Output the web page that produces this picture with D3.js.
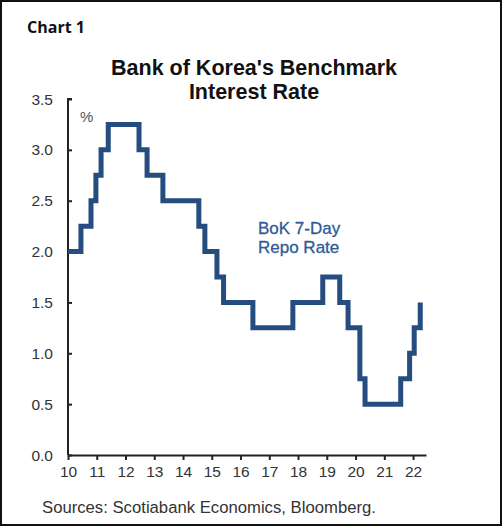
<!DOCTYPE html>
<html>
<head>
<meta charset="utf-8">
<script src="https://cdn.jsdelivr.net/npm/d3@7"></script>
<style>
  body { margin: 0; background: #fff; }
  svg { display: block; }
</style>
</head>
<body>
<div id="chart"></div>
<script>
// decimal year of each rate change, and the rate set then
const changeYears = [10.0, 10.45, 10.8, 10.97, 11.15, 11.4, 12.47, 12.75, 13.3, 14.55, 14.76, 15.18, 15.41, 16.43, 17.82, 18.86, 19.45, 19.74, 20.15, 20.33, 21.57, 21.88, 22.04, 22.25];
const repoRates = [2.0, 2.25, 2.5, 2.75, 3.0, 3.25, 3.0, 2.75, 2.5, 2.25, 2.0, 1.75, 1.5, 1.25, 1.5, 1.75, 1.5, 1.25, 0.75, 0.5, 0.75, 1.0, 1.25, 1.5];
const yTicks = [0, 0.5, 1.0, 1.5, 2.0, 2.5, 3.0, 3.5];
const xTicks = [10, 11, 12, 13, 14, 15, 16, 17, 18, 19, 20, 21, 22];

const width = 504, height = 528;
const margin = {left: 68, top: 99, right: 78, bottom: 73};

let svg = d3.select("#chart")
  .append("svg")
  .attr("width", width)
  .attr("height", height);

// outer frame
svg.append("rect")
  .attr("x", 1).attr("y", 1)
  .attr("width", 500).attr("height", 524)
  .attr("fill", "none")
  .attr("stroke", "#111")
  .attr("stroke-width", 2);

let x = d3.scaleLinear()
  .domain([10, 22.45])
  .range([margin.left, width - margin.right]);

let y = d3.scaleLinear()
  .domain([0, 3.5])
  .range([height - margin.bottom, margin.top]);

let font = "Arial, 'Liberation Sans', Helvetica, sans-serif";

// y axis
let yAxis = svg.append("g")
  .attr("transform", `translate(${margin.left},0)`)
  .call(d3.axisRight(y).tickValues(yTicks).tickSize(4).tickFormat(""));
yAxis.select(".domain").attr("d", `M4,${y(3.5)}H0V${y(0)}`);

svg.append("g").selectAll("text")
  .data(yTicks)
  .enter().append("text")
    .attr("x", 53)
    .attr("y", d => y(d) + 5.5)
    .attr("text-anchor", "end")
    .attr("font-family", font)
    .attr("font-size", "15.5px")
    .attr("fill", "#333")
    .text(d => d.toFixed(1));

// x axis
let xAxis = svg.append("g")
  .attr("transform", `translate(0,${y(0)})`)
  .call(d3.axisBottom(x).tickValues(xTicks).tickSize(5).tickSizeOuter(0).tickPadding(6).tickFormat(d3.format("d")));
xAxis.selectAll("text")
  .attr("font-family", font)
  .attr("font-size", "15.5px")
  .attr("fill", "#333");

svg.selectAll(".domain, .tick line")
  .attr("stroke", "#222")
  .attr("stroke-width", 2);

svg.append("text")
  .attr("x", 80).attr("y", 122)
  .attr("font-family", font)
  .attr("font-size", "15px")
  .attr("fill", "#555")
  .text("%");

// step line
let points = changeYears.map((d, i) => [d, repoRates[i]]);
let line = d3.line()
  .x(d => x(d[0]))
  .y(d => y(d[1]))
  .curve(d3.curveStepAfter);

svg.append("path")
  .datum(points)
  .attr("d", line)
  .attr("fill", "none")
  .attr("stroke", "#264d80")
  .attr("stroke-width", 5)
  .attr("stroke-linejoin", "miter");

// series label
svg.append("text")
  .attr("font-family", font)
  .attr("font-size", "17px")
  .attr("fill", "#2f5b96")
  .attr("stroke", "#2f5b96")
  .attr("stroke-width", 0.3)
  .selectAll("tspan")
  .data(["BoK 7-Day", "Repo Rate"])
  .enter().append("tspan")
    .attr("x", 258)
    .attr("y", (d, i) => 234 + i * 19)
    .text(d => d);

// titles
svg.append("text")
  .attr("x", 27).attr("y", 33)
  .attr("font-family", "'Open Sans', sans-serif")
  .attr("font-weight", "700")
  .attr("font-size", "16px")
  .attr("fill", "#111")
  .text("Chart 1");

svg.append("text")
  .attr("text-anchor", "middle")
  .attr("font-family", font)
  .attr("font-weight", "700")
  .attr("font-size", "21.5px")
  .attr("fill", "#111")
  .selectAll("tspan")
  .data(["Bank of Korea's Benchmark", "Interest Rate"])
  .enter().append("tspan")
    .attr("x", 254)
    .attr("y", (d, i) => 75 + i * 24)
    .text(d => d);

svg.append("text")
  .attr("x", 42).attr("y", 513)
  .attr("font-family", font)
  .attr("font-size", "16.7px")
  .attr("fill", "#333")
  .text("Sources: Scotiabank Economics, Bloomberg.");
</script>
</body>
</html>
